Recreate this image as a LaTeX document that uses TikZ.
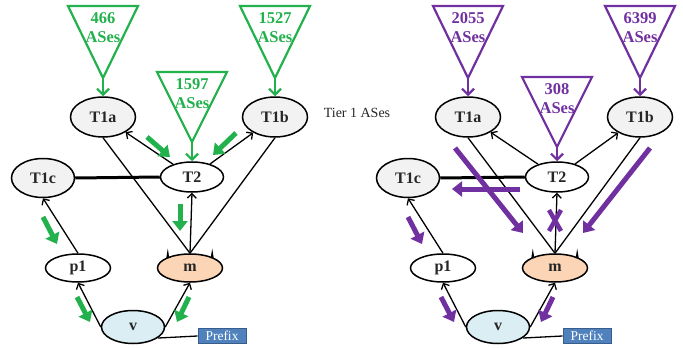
\documentclass[tikz,border=0pt]{standalone}
\usepackage{fontspec}
\setmainfont{Liberation Serif}
\usetikzlibrary{shapes.geometric,arrows.meta}
\definecolor{grn}{RGB}{34,177,76}
\definecolor{pur}{RGB}{112,48,160}
\definecolor{peach}{RGB}{251,213,181}
\definecolor{lblue}{RGB}{219,238,244}
\definecolor{lgray}{RGB}{242,242,242}
\definecolor{pblue}{RGB}{79,129,189}
\definecolor{pbluedark}{RGB}{56,93,138}
\definecolor{txt}{RGB}{38,38,38}
\tikzset{
  asnode/.style={ellipse, draw=black, line width=1.5pt, inner sep=0pt,
    minimum width=65pt, minimum height=#1, text=txt,
    font=\fontsize{16}{16}\selectfont\bfseries},
  edge/.style={line width=1.3pt, -{Straight Barb[length=4.5pt,width=9pt]}},
  plain/.style={line width=1.3pt},
  tri/.style={draw=#1, line width=2.2pt, line join=miter},
  trilab/.style={text=#1, inner sep=0pt, font=\fontsize{16.5}{16.5}\selectfont\bfseries},
  triarrow/.style={draw=#1, line width=2.2pt, -{Straight Barb[length=6pt,width=12pt]}},
  fat/.style={draw=#1, line width=5pt, -{Triangle[length=10pt,width=15pt]}, fill=#1},
  prefixbox/.style={rectangle, fill=pblue, draw=pbluedark, line width=0.8pt,
    minimum width=48pt, minimum height=15pt, inner sep=0pt, text=white,
    font=\fontsize{13.5}{13.5}\selectfont},
}
% #1 prefix, #2 xshift, #3 colour, #4 left count, #5 right count, #6 middle count, #7 middle top y
\newcommand\drawpanel[7]{%
\begin{scope}[xshift=#2]
  \node[asnode=40pt, fill=lgray] (#1T1a) at (103,117) {T1a};
  \node[asnode=40pt, fill=lgray] (#1T1b) at (275,117) {T1b};
  \node[asnode=39pt, fill=lgray, minimum width=63pt] (#1T1c) at (43,178) {T1c};
  \node[asnode=30pt, fill=white, minimum width=63pt] (#1T2) at (192,177) {T2};
  \node[asnode=28pt, fill=white] (#1p1) at (78,268) {p1};
  \node[asnode=28pt, fill=peach] (#1m) at (190,268) {m};
  \node[asnode=33pt, fill=lblue, minimum width=63pt] (#1v) at (133,327) {v};
  \node[prefixbox] (#1pf) at (222,336) {Prefix};
  % horns on m
  \fill (166.3,258) -- (169.3,258) -- (167.8,248.5) -- cycle;
  \fill (210.7,258) -- (213.7,258) -- (212.2,248.5) -- cycle;
  % triangles
  \coordinate (#1A1) at (103,78);
  \coordinate (#1A2) at (275,78);
  \coordinate (#1A3) at (192,#7+70);
  \draw[tri=#3] (68,6) -- (138,6) -- (#1A1) -- cycle;
  \draw[tri=#3] (240,6) -- (310,6) -- (#1A2) -- cycle;
  \draw[tri=#3] (157,#7) -- (227,#7) -- (#1A3) -- cycle;
  \node[trilab=#3] at (103,18) {#4};
  \node[trilab=#3] at (103,37) {ASes};
  \node[trilab=#3] at (275,18) {#5};
  \node[trilab=#3] at (275,37) {ASes};
  \node[trilab=#3] at (192,#7+12) {#6};
  \node[trilab=#3] at (192,#7+31) {ASes};
  \draw[triarrow=#3] (#1A1) -- (#1T1a);
  \draw[triarrow=#3] (#1A2) -- (#1T1b);
  \draw[triarrow=#3] (#1A3) -- (#1T2);
  % edges
  \draw[edge] (#1T2) -- (#1T1a);
  \draw[edge] (#1T2) -- (#1T1b);
  \draw[plain] (#1T1a.south) -- (#1m.north);
  \draw[plain] (#1T1b.south) -- (#1m.north);
  \draw[edge] (#1m.north) -- (#1T2.south);
  \draw[line width=3pt] (#1T1c.east) -- (#1T2.west);
  \draw[edge] (#1p1.north) -- (#1T1c.south);
  \draw[edge] (#1v.west) -- (#1p1.south);
  \draw[edge] (#1v.east) -- (#1m.south);
  \draw[plain] (#1v.-24) -- (#1pf.west);
\end{scope}}
\begin{document}
\begin{tikzpicture}[x=1pt,y=-1pt]
  \useasboundingbox (0,0) rectangle (683,348);
  \drawpanel{L}{0pt}{grn}{466}{1527}{1597}{72}
  \drawpanel{R}{365pt}{pur}{2055}{6399}{308}{77}
  \node[text=txt, font=\fontsize{14}{14}\selectfont] (tier) at (357,113) {Tier 1 ASes};
  % green arrows
  \draw[fat=grn] (147,137) -- (170,157);
  \draw[fat=grn] (236,133) -- (213,155);
  \draw[fat=grn] (180,204) -- (180,231);
  \draw[fat=grn] (43,217) -- (57,244);
  \draw[fat=grn] (77,297) -- (90,322);
  \draw[fat=grn] (189,297) -- (177,322);
  % purple arrows
  \draw[fat=pur] (455,148) -- (523,233);
  \draw[fat=pur] (650,148) -- (583,233);
  \draw[fat=pur] (520,189) -- (452,189);
  \draw[fat=pur] (408,217) -- (422,244);
  \draw[fat=pur] (441,297) -- (454,322);
  \draw[fat=pur] (553,297) -- (541,322);
  \draw[pur, line width=4.5pt] (549,210) -- (561,231);
  \draw[pur, line width=4.5pt] (561,210) -- (549,231);
\end{tikzpicture}
\end{document}
